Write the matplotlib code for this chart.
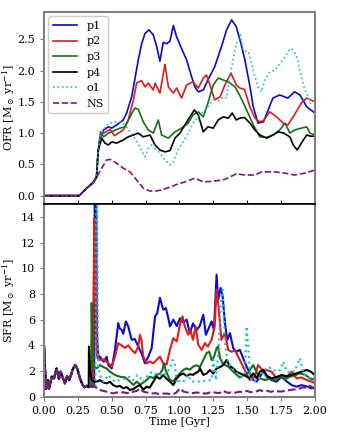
import numpy as np
import matplotlib
matplotlib.use("Agg")
import matplotlib.pyplot as plt

plt.rcParams['font.family'] = ['DejaVu Serif']
plt.rcParams['mathtext.fontset'] = 'dejavuserif'

labels = ['p1', 'p2', 'p3', 'p4', 'o1', 'NS']
colors = ['#0a0acc', '#dd1c1c', '#1a6e1a', 'black', '#26b8d8', '#7a1a7e']
styles = ['-', '-', '-', '-', ':', '--']

# ---------------- OFR (top panel) ----------------
ofr_early_t = [0.0, 0.26, 0.315, 0.364, 0.388]
ofr_early_v = [0.0, 0.0, 0.12, 0.21, 0.30]

ofr_p1_t = [0.40, 0.418, 0.44, 0.475, 0.50, 0.536, 0.585, 0.61, 0.647, 0.67, 0.696, 0.721, 0.745, 0.775, 0.807, 0.83, 0.856, 0.88, 0.906, 0.93, 0.955, 0.979, 1.016, 1.053, 1.09, 1.114, 1.139, 1.176, 1.21, 1.26, 1.31, 1.348, 1.385, 1.42, 1.454, 1.483, 1.52, 1.545, 1.58, 1.62, 1.655, 1.69, 1.74, 1.80, 1.85, 1.89, 1.94, 2.0]
ofr_p1_v = [0.70, 0.94, 1.05, 1.10, 1.08, 1.13, 1.21, 1.32, 1.58, 1.85, 2.17, 2.43, 2.59, 2.65, 2.57, 2.40, 2.15, 2.45, 2.43, 2.47, 2.72, 2.54, 2.35, 2.17, 1.90, 1.74, 1.66, 1.69, 1.85, 2.06, 2.38, 2.65, 2.81, 2.70, 2.43, 2.17, 1.75, 1.42, 1.16, 1.18, 1.37, 1.56, 1.61, 1.56, 1.66, 1.61, 1.42, 1.32]

ofr_p2_t = [0.40, 0.418, 0.44, 0.487, 0.52, 0.585, 0.622, 0.66, 0.684, 0.72, 0.745, 0.77, 0.807, 0.82, 0.856, 0.893, 0.918, 0.954, 0.979, 1.016, 1.053, 1.10, 1.139, 1.176, 1.2, 1.23, 1.26, 1.30, 1.336, 1.38, 1.42, 1.446, 1.48, 1.52, 1.557, 1.594, 1.62, 1.667, 1.717, 1.766, 1.80, 1.84, 1.90, 1.94, 2.0]
ofr_p2_v = [0.70, 0.98, 1.0, 1.06, 0.96, 1.05, 1.21, 1.53, 1.80, 1.84, 1.74, 1.80, 1.69, 1.80, 1.64, 2.10, 1.74, 1.64, 1.72, 1.56, 1.77, 1.82, 1.72, 1.88, 1.93, 1.74, 1.53, 1.58, 1.77, 1.96, 1.77, 1.72, 1.70, 1.42, 1.24, 1.18, 1.20, 1.34, 1.26, 1.16, 1.13, 1.26, 1.48, 1.56, 1.50]

ofr_p3_t = [0.40, 0.418, 0.44, 0.475, 0.50, 0.561, 0.598, 0.635, 0.67, 0.696, 0.733, 0.77, 0.807, 0.83, 0.844, 0.868, 0.918, 0.967, 1.016, 1.065, 1.10, 1.139, 1.176, 1.21, 1.25, 1.286, 1.323, 1.36, 1.41, 1.446, 1.496, 1.545, 1.594, 1.644, 1.69, 1.74, 1.78, 1.815, 1.85, 1.90, 1.94, 1.963, 2.0]
ofr_p3_v = [0.73, 1.02, 0.94, 1.0, 1.02, 1.08, 1.10, 1.26, 1.40, 1.38, 1.18, 1.05, 1.0, 1.13, 1.21, 0.97, 0.92, 1.02, 1.08, 1.16, 1.29, 1.34, 1.26, 1.48, 1.77, 1.88, 1.85, 1.82, 1.74, 1.60, 1.37, 1.13, 0.94, 0.93, 0.97, 1.05, 1.16, 1.0, 1.05, 1.08, 1.10, 1.0, 0.97]

ofr_p4_t = [0.40, 0.426, 0.45, 0.475, 0.50, 0.536, 0.585, 0.622, 0.66, 0.696, 0.733, 0.782, 0.82, 0.856, 0.893, 0.93, 0.967, 1.004, 1.04, 1.077, 1.11, 1.139, 1.176, 1.21, 1.25, 1.286, 1.323, 1.36, 1.39, 1.42, 1.446, 1.48, 1.52, 1.557, 1.594, 1.644, 1.69, 1.73, 1.77, 1.815, 1.84, 1.87, 1.90, 1.94, 1.97, 2.0]
ofr_p4_v = [0.73, 0.92, 0.84, 0.81, 0.86, 0.84, 0.89, 0.94, 0.97, 1.0, 0.94, 0.97, 0.81, 0.73, 0.70, 0.72, 0.92, 1.0, 1.13, 1.26, 1.37, 1.29, 1.02, 1.10, 1.08, 1.21, 1.26, 1.24, 1.32, 1.21, 1.24, 1.25, 1.16, 1.05, 0.97, 0.92, 0.97, 1.02, 1.0, 0.94, 0.81, 0.73, 0.84, 0.97, 0.95, 0.95]

ofr_o1_t = [0.40, 0.418, 0.462, 0.51, 0.56, 0.598, 0.635, 0.67, 0.708, 0.745, 0.77, 0.807, 0.82, 0.856, 0.893, 0.93, 0.954, 0.99, 1.028, 1.065, 1.10, 1.139, 1.176, 1.21, 1.25, 1.29, 1.323, 1.348, 1.372, 1.40, 1.42, 1.45, 1.47, 1.51, 1.545, 1.58, 1.606, 1.63, 1.667, 1.705, 1.74, 1.78, 1.815, 1.84, 1.87, 1.90, 1.926, 1.95, 1.97]
ofr_o1_v = [0.73, 0.98, 1.13, 1.18, 1.18, 1.13, 1.02, 0.92, 0.78, 0.62, 0.76, 0.84, 0.76, 0.68, 0.57, 0.49, 0.54, 0.73, 0.86, 1.0, 1.16, 1.26, 1.34, 1.42, 1.53, 1.52, 1.58, 1.56, 1.90, 2.22, 2.43, 2.57, 2.33, 2.30, 2.0, 1.74, 1.66, 1.85, 1.98, 2.0, 2.11, 2.22, 2.35, 2.33, 2.19, 1.90, 1.69, 1.58, 1.45]

ofr_ns_t = [0.39, 0.426, 0.462, 0.487, 0.536, 0.585, 0.635, 0.684, 0.733, 0.78, 0.83, 0.88, 0.955, 0.967, 1.04, 1.114, 1.176, 1.25, 1.336, 1.42, 1.483, 1.557, 1.606, 1.705, 1.78, 1.85, 1.926, 2.0]
ofr_ns_v = [0.30, 0.44, 0.57, 0.58, 0.52, 0.44, 0.38, 0.25, 0.12, 0.075, 0.075, 0.10, 0.155, 0.17, 0.22, 0.28, 0.22, 0.23, 0.26, 0.35, 0.33, 0.33, 0.38, 0.38, 0.36, 0.33, 0.36, 0.41]

# ---------------- SFR (bottom panel) ----------------
sfr_early_t = [0.0, 0.014, 0.028, 0.036, 0.045, 0.057, 0.074, 0.093, 0.11, 0.123, 0.138, 0.155, 0.17, 0.185, 0.2, 0.21, 0.229, 0.245, 0.266, 0.285, 0.30, 0.315, 0.33]
sfr_early_v = [4.0, 0.6, 1.3, 0.6, 1.0, 1.56, 1.43, 2.2, 1.4, 1.95, 1.5, 1.04, 1.6, 1.3, 1.7, 2.08, 2.47, 2.2, 1.43, 0.91, 0.74, 0.85, 0.75]

sfr_p1_t = [0.37, 0.375, 0.385, 0.39, 0.40, 0.413, 0.44, 0.463, 0.475, 0.50, 0.524, 0.536, 0.548, 0.56, 0.573, 0.585, 0.605, 0.622, 0.647, 0.67, 0.696, 0.72, 0.745, 0.77, 0.795, 0.82, 0.836, 0.856, 0.88, 0.90, 0.918, 0.93, 0.955, 0.98, 1.004, 1.028, 1.053, 1.077, 1.10, 1.127, 1.15, 1.176, 1.195, 1.215, 1.237, 1.255, 1.274, 1.286, 1.304, 1.319, 1.336, 1.353, 1.373, 1.397, 1.42, 1.446, 1.47, 1.496, 1.52, 1.545, 1.57, 1.594, 1.62, 1.65, 1.68, 1.717, 1.754, 1.79, 1.828, 1.865, 1.90, 1.94, 1.976, 2.0]
sfr_p1_v = [0.8, 18.0, 18.0, 5.0, 3.2, 3.1, 2.73, 3.1, 2.47, 2.2, 3.65, 4.69, 5.73, 5.3, 5.2, 4.9, 5.86, 5.47, 4.43, 4.5, 3.9, 3.39, 2.6, 3.12, 3.78, 6.25, 6.5, 7.7, 6.77, 6.9, 6.1, 5.47, 6.0, 5.5, 6.1, 5.8, 6.0, 4.95, 5.7, 5.2, 5.5, 6.38, 4.82, 5.3, 5.86, 5.2, 9.5, 7.55, 8.47, 7.8, 5.73, 4.43, 4.95, 3.78, 3.5, 3.65, 3.0, 2.34, 1.82, 1.3, 1.17, 1.56, 1.95, 1.5, 1.3, 1.17, 1.56, 1.2, 0.91, 0.78, 0.9, 0.8, 0.65, 0.7]

sfr_p2_t = [0.36, 0.364, 0.372, 0.38, 0.385, 0.39, 0.40, 0.413, 0.44, 0.463, 0.487, 0.50, 0.524, 0.548, 0.573, 0.597, 0.622, 0.647, 0.672, 0.696, 0.708, 0.72, 0.733, 0.758, 0.78, 0.807, 0.83, 0.856, 0.88, 0.905, 0.93, 0.955, 0.98, 1.004, 1.023, 1.04, 1.065, 1.08, 1.10, 1.12, 1.139, 1.164, 1.188, 1.21, 1.237, 1.26, 1.274, 1.286, 1.30, 1.31, 1.336, 1.36, 1.385, 1.41, 1.434, 1.446, 1.47, 1.50, 1.52, 1.557, 1.58, 1.61, 1.644, 1.68, 1.717, 1.75, 1.79, 1.828, 1.865, 1.90, 1.94, 1.976, 2.0]
sfr_p2_v = [0.8, 6.0, 13.9, 10.0, 5.0, 3.2, 3.0, 2.86, 2.9, 2.7, 2.5, 2.34, 3.12, 4.17, 4.0, 3.8, 4.0, 3.65, 3.39, 3.9, 4.82, 4.4, 3.12, 2.6, 2.75, 2.6, 2.86, 3.12, 2.6, 2.5, 3.65, 4.56, 4.3, 5.6, 6.25, 5.47, 4.82, 5.2, 4.43, 5.47, 4.04, 3.65, 4.17, 3.9, 4.43, 5.47, 8.34, 7.3, 5.6, 4.43, 4.95, 3.65, 3.5, 3.6, 3.12, 2.86, 2.34, 1.69, 1.3, 1.56, 2.47, 2.1, 2.08, 1.95, 1.43, 1.6, 1.5, 1.95, 1.43, 1.5, 1.3, 1.17, 1.04]

sfr_p3_t = [0.348, 0.352, 0.358, 0.37, 0.39, 0.413, 0.44, 0.463, 0.487, 0.524, 0.56, 0.60, 0.635, 0.66, 0.684, 0.71, 0.733, 0.758, 0.782, 0.807, 0.83, 0.856, 0.875, 0.886, 0.90, 0.93, 0.955, 0.98, 1.004, 1.028, 1.053, 1.077, 1.10, 1.127, 1.151, 1.176, 1.2, 1.22, 1.237, 1.255, 1.274, 1.286, 1.30, 1.319, 1.336, 1.36, 1.385, 1.41, 1.446, 1.476, 1.50, 1.52, 1.545, 1.57, 1.594, 1.63, 1.67, 1.705, 1.74, 1.78, 1.815, 1.85, 1.89, 1.93, 1.963, 2.0]
sfr_p3_v = [0.9, 7.3, 3.0, 2.34, 2.2, 2.47, 2.3, 2.2, 1.95, 1.69, 1.56, 1.5, 1.17, 0.91, 1.17, 0.95, 1.1, 1.3, 1.56, 1.45, 1.69, 1.8, 2.1, 2.6, 2.0, 1.3, 1.2, 1.56, 1.82, 2.08, 2.21, 2.1, 2.34, 2.45, 2.3, 2.86, 3.39, 3.52, 2.86, 3.1, 3.78, 3.9, 3.0, 2.6, 2.47, 2.34, 2.08, 1.82, 1.5, 1.69, 1.75, 2.08, 2.47, 1.9, 1.43, 1.3, 1.4, 1.3, 1.56, 1.35, 1.56, 1.65, 1.82, 1.7, 1.43, 1.3]

sfr_p4_t = [0.332, 0.34, 0.352, 0.376, 0.40, 0.413, 0.44, 0.463, 0.487, 0.51, 0.536, 0.56, 0.585, 0.61, 0.635, 0.66, 0.684, 0.708, 0.733, 0.758, 0.78, 0.807, 0.83, 0.856, 0.88, 0.905, 0.93, 0.955, 0.98, 1.004, 1.03, 1.053, 1.077, 1.10, 1.12, 1.139, 1.151, 1.176, 1.20, 1.225, 1.25, 1.274, 1.30, 1.323, 1.348, 1.37, 1.397, 1.42, 1.446, 1.476, 1.52, 1.545, 1.57, 1.594, 1.62, 1.65, 1.68, 1.72, 1.754, 1.79, 1.83, 1.865, 1.90, 1.94, 1.97, 2.0]
sfr_p4_v = [3.9, 2.0, 1.3, 1.17, 1.2, 1.3, 1.1, 1.04, 1.17, 0.91, 0.78, 0.85, 0.65, 0.75, 0.52, 0.6, 0.78, 0.91, 0.55, 0.78, 0.7, 1.17, 1.56, 1.4, 1.69, 1.4, 1.17, 0.91, 1.43, 1.69, 1.8, 1.6, 1.75, 1.7, 1.85, 1.95, 2.21, 1.7, 1.8, 2.08, 1.8, 2.21, 2.3, 2.47, 2.86, 2.4, 2.21, 1.95, 1.82, 1.69, 1.43, 1.82, 1.43, 1.95, 2.08, 1.6, 1.43, 1.55, 1.69, 1.6, 1.7, 1.82, 1.95, 2.08, 1.95, 1.69]

sfr_o1_t = [0.38, 0.385, 0.392, 0.40, 0.42, 0.44, 0.475, 0.50, 0.524, 0.56, 0.60, 0.635, 0.66, 0.69, 0.71, 0.733, 0.755, 0.78, 0.807, 0.83, 0.855, 0.88, 0.905, 0.93, 0.95, 0.965, 0.98, 1.004, 1.03, 1.065, 1.09, 1.12, 1.164, 1.2, 1.237, 1.25, 1.27, 1.29, 1.31, 1.32, 1.336, 1.36, 1.397, 1.43, 1.46, 1.483, 1.496, 1.51, 1.52, 1.545, 1.58, 1.62, 1.655, 1.69, 1.717, 1.745, 1.766, 1.79, 1.815, 1.85, 1.89, 1.91, 1.94, 1.97, 2.0]
sfr_o1_v = [0.8, 16.0, 16.0, 2.3, 1.5, 1.17, 1.69, 1.4, 1.17, 1.3, 1.43, 1.56, 1.3, 1.69, 1.5, 1.17, 1.5, 1.82, 1.95, 1.7, 1.75, 1.6, 1.9, 2.21, 2.86, 2.6, 1.04, 1.3, 1.2, 1.69, 1.17, 1.2, 1.17, 1.25, 1.3, 2.86, 1.3, 4.0, 8.1, 8.34, 4.17, 2.6, 2.08, 1.8, 1.56, 1.69, 5.47, 3.65, 1.56, 1.17, 1.3, 1.95, 2.34, 2.1, 1.95, 2.1, 2.73, 2.0, 1.82, 2.0, 3.0, 2.08, 1.43, 1.5, 1.43]

sfr_ns_t = [0.34, 0.376, 0.413, 0.44, 0.463, 0.51, 0.535, 0.56, 0.585, 0.61, 0.635, 0.66, 0.685, 0.708, 0.73, 0.75, 0.775, 0.80, 0.825, 0.85, 0.875, 0.90, 0.925, 0.95, 0.975, 1.004, 1.03, 1.05, 1.075, 1.10, 1.125, 1.15, 1.175, 1.20, 1.225, 1.25, 1.275, 1.30, 1.323, 1.345, 1.36, 1.38, 1.40, 1.425, 1.446, 1.47, 1.50, 1.525, 1.55, 1.57, 1.594, 1.62, 1.65, 1.675, 1.70, 1.725, 1.75, 1.775, 1.80, 1.82, 1.84, 1.86, 1.88, 1.91, 1.94, 1.96, 1.98, 2.0]
sfr_ns_v = [0.8, 0.78, 0.52, 0.45, 0.39, 0.26, 0.33, 0.3, 0.35, 0.28, 0.32, 0.39, 0.45, 0.65, 0.42, 0.35, 0.3, 0.25, 0.28, 0.2, 0.24, 0.25, 0.22, 0.2, 0.3, 0.65, 0.4, 0.35, 0.3, 0.28, 0.33, 0.3, 0.26, 0.25, 0.33, 0.35, 0.3, 0.3, 0.47, 0.35, 0.3, 0.33, 0.28, 0.35, 0.39, 0.36, 0.45, 0.35, 0.39, 0.42, 0.52, 0.4, 0.45, 0.38, 0.45, 0.42, 0.4, 0.45, 0.5, 0.52, 0.57, 0.55, 0.6, 0.73, 0.7, 0.86, 0.75, 0.65]

ofr_t = [ofr_p1_t, ofr_p2_t, ofr_p3_t, ofr_p4_t, ofr_o1_t, ofr_ns_t]
ofr_v = [ofr_p1_v, ofr_p2_v, ofr_p3_v, ofr_p4_v, ofr_o1_v, ofr_ns_v]
sfr_t = [sfr_p1_t, sfr_p2_t, sfr_p3_t, sfr_p4_t, sfr_o1_t, sfr_ns_t]
sfr_v = [sfr_p1_v, sfr_p2_v, sfr_p3_v, sfr_p4_v, sfr_o1_v, sfr_ns_v]

fig = plt.figure(figsize=(3.5, 4.45), dpi=100)
ax1 = fig.add_axes([0.1257, 0.5416, 0.774, 0.4314])
ax2 = fig.add_axes([0.1257, 0.1085, 0.774, 0.4331], sharex=ax1)

for i in range(6):
    t = ofr_early_t + ofr_t[i]
    v = ofr_early_v + ofr_v[i]
    ax1.plot(t, v, color=colors[i], ls=styles[i], lw=1.2, label=labels[i])
    t2 = sfr_early_t + sfr_t[i]
    v2 = sfr_early_v + sfr_v[i]
    ax2.plot(t2, v2, color=colors[i], ls=styles[i], lw=1.5)

ax1.set_xlim(0, 2.0)
ax1.set_ylim(-0.133, 2.936)
ax2.set_ylim(0, 15)
ax1.set_yticks([0.0, 0.5, 1.0, 1.5, 2.0, 2.5])
ax2.set_yticks([0, 2, 4, 6, 8, 10, 12, 14])
ax2.set_xticks([0.0, 0.25, 0.5, 0.75, 1.0, 1.25, 1.5, 1.75, 2.0])
ax2.set_xticklabels(['0.00', '0.25', '0.50', '0.75', '1.00', '1.25', '1.50', '1.75', '2.00'])
ax1.tick_params(axis='x', labelbottom=False, direction='in', length=3)
ax1.tick_params(axis='y', labelsize=8, length=3, color='0.5')
ax2.tick_params(axis='both', labelsize=8, length=3, color='0.5')

for ax in (ax1, ax2):
    for s in ax.spines.values():
        s.set_color('0.5')
        s.set_linewidth(1.5)
ax1.spines['bottom'].set_color('black')
ax1.spines['bottom'].set_linewidth(1.2)
ax2.spines['top'].set_color('black')
ax2.spines['top'].set_linewidth(1.2)

ax1.set_ylabel(r'OFR [M$_\odot$ yr$^{-1}$]', fontsize=8)
ax2.set_ylabel(r'SFR [M$_\odot$ yr$^{-1}$]', fontsize=8)
ax2.set_xlabel('Time [Gyr]', fontsize=8, labelpad=1)
ax1.yaxis.set_label_coords(-0.1, 0.5)
ax2.yaxis.set_label_coords(-0.1, 0.5)

ax1.legend(loc='upper left', fontsize=8, handlelength=2.2, labelspacing=0.5,
           borderaxespad=0.4, framealpha=1.0)

fig.savefig('out.png', dpi=100)
